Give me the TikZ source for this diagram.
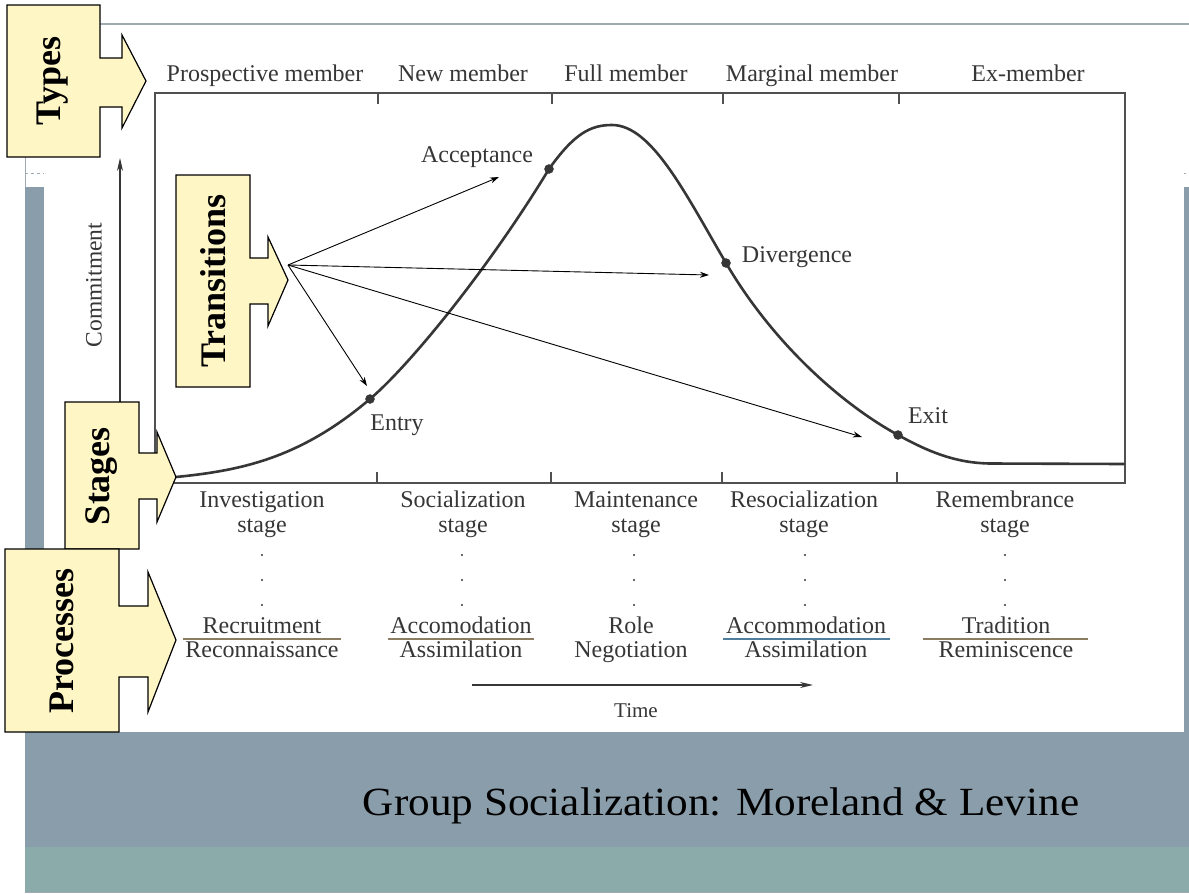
\documentclass[tikz,border=0pt]{standalone}
\usepackage{fontspec}
\newfontfamily\calloutfont{Liberation Serif}
\newfontfamily\titlefont{Liberation Serif}
\newfontfamily\labelfont{Liberation Serif}
\usetikzlibrary{arrows.meta}
\definecolor{bandgray}{HTML}{8A9DAA}
\definecolor{bandteal}{HTML}{8AABA9}
\definecolor{calloutfill}{HTML}{FFF6C6}
\definecolor{ink}{HTML}{363636}
\definecolor{frameink}{HTML}{505050}
\definecolor{rulebrown}{HTML}{8C7C62}
\definecolor{ruleblue}{HTML}{4F7E9C}
\definecolor{slideline}{HTML}{9EABB3}
\begin{document}
\begin{tikzpicture}[x=1pt,y=-1pt,
  lbl/.style={text=ink,font=\labelfont\fontsize{24}{27}\selectfont,inner sep=0pt,anchor=base},
  callout/.style={draw=black,line width=1.2pt,fill=calloutfill,line join=miter},
  callouttext/.style={font=\calloutfont\bfseries\fontsize{36}{40}\selectfont,rotate=90,inner sep=0pt},
  curve/.style={draw=ink,line width=2.6pt,line cap=round},
  frame/.style={draw=frameink,line width=1.8pt},
  tick/.style={draw=frameink,line width=1.4pt},
  pointer/.style={draw=black,line width=0.9pt,-{Stealth[length=9pt,width=6pt]}},
  axis/.style={draw=ink,line width=1.3pt,-{Stealth[length=13pt,width=6pt]}},
  milestone/.style={circle,fill=ink,draw=ink,inner sep=0pt,minimum size=9pt},
  pdot/.style={circle,fill=ink,inner sep=0pt,minimum size=2.4pt}
]
\useasboundingbox (0,0) rectangle (1189,894);
\fill[white] (0,0) rectangle (1189,894);

% slide background
\draw[slideline,line width=1.5pt] (100,24) -- (1189,24);
\draw[slideline,line width=1pt] (25,30) -- (25,187);
\draw[slideline,line width=0.8pt,dashed] (25,173) -- (1189,173);
\fill[bandgray] (25,187) rectangle (1189,847);
\fill[bandteal] (25,847) rectangle (1189,892);
\draw[slideline,line width=1pt] (25,892.5) -- (1189,892.5);

% white figure panel
\fill[white] (44,30) rectangle (1184,732);

% chart frame and ticks
\draw[frame] (155,93) rectangle (1125,483);
\foreach \tx in {378,552,723,899} \draw[tick] (\tx,93) -- (\tx,104);
\foreach \tx in {377,551,722,897} \draw[tick] (\tx,483) -- (\tx,472);

% membership types
\node[lbl] (ty1) at (265,81) {Prospective member};
\node[lbl] (ty2) at (463,81) {New member};
\node[lbl] (ty3) at (626,81) {Full member};
\node[lbl] (ty4) at (812,81) {Marginal member};
\node[lbl] (ty5) at (1028,81) {Ex-member};

% commitment axis
\coordinate (ax0) at (120,402);
\coordinate (ax1) at (120,158);
\draw[axis] (ax0) -- (ax1);
\node[text=ink,font=\labelfont\fontsize{23.5}{26}\selectfont,rotate=90,inner sep=0pt] (commit) at (94,285) {Commitment};

% commitment curve
\draw[curve] (176,477) .. controls (241,470.5) and (300,458.5) .. (370,399)
  .. controls (410,365) and (489,268) .. (549,169)
  .. controls (574,134) and (590,125) .. (612,125)
  .. controls (652,125) and (686,195) .. (726,263)
  .. controls (771,340) and (838,402) .. (898,435)
  .. controls (928,451.5) and (955,463) .. (990,463.5)
  -- (1124,464);

% role transitions
\node[milestone] (entry) at (370,399) {};
\node[milestone] (accept) at (549,169) {};
\node[milestone] (diverge) at (726,263) {};
\node[milestone] (exit) at (898,435) {};
\node[lbl] (entrylbl) at (397,430) {Entry};
\node[lbl] (acceptlbl) at (477,162) {Acceptance};
\node[lbl] (divergelbl) at (797,262) {Divergence};
\node[lbl] (exitlbl) at (928,423) {Exit};

% stages
\node[lbl] (s1a) at (262,507) {Investigation};
\node[lbl] (s1b) at (262,532) {stage};
\node[lbl] (s2a) at (463,507) {Socialization};
\node[lbl] (s2b) at (463,532) {stage};
\node[lbl] (s3a) at (636,507) {Maintenance};
\node[lbl] (s3b) at (636,532) {stage};
\node[lbl] (s4a) at (804,507) {Resocialization};
\node[lbl] (s4b) at (804,532) {stage};
\node[lbl] (s5a) at (1005,507) {Remembrance};
\node[lbl] (s5b) at (1005,532) {stage};
\foreach \dx in {262,462,634,805,1005}
  \foreach \dy in {555,580,605}
    \node[pdot] at (\dx,\dy) {};

% processes
\node[lbl] (p1a) at (262,633) {Recruitment};
\node[lbl] (p1b) at (262,657) {Reconnaissance};
\draw[rulebrown,line width=1.5pt] (183,639) -- (341,639);
\node[lbl] (p2a) at (461,633) {Accomodation};
\node[lbl] (p2b) at (461,657) {Assimilation};
\draw[rulebrown,line width=1.5pt] (388,639) -- (534,639);
\node[lbl] (p3a) at (631,633) {Role};
\node[lbl] (p3b) at (631,657) {Negotiation};
\node[lbl] (p4a) at (806,633) {Accommodation};
\node[lbl] (p4b) at (806,657) {Assimilation};
\draw[ruleblue,line width=1.5pt] (723,639) -- (890,639);
\node[lbl] (p5a) at (1006,633) {Tradition};
\node[lbl] (p5b) at (1006,657) {Reminiscence};
\draw[rulebrown,line width=1.5pt] (923,639) -- (1088,639);

% time axis
\coordinate (t0) at (472,685);
\coordinate (t1) at (813,685);
\draw[axis] (t0) -- (t1);
\node[lbl,font=\labelfont\fontsize{21}{24}\selectfont] (timelbl) at (636,717) {Time};

% callouts
\draw[callout] (7,5) -- (100,5) -- (100,58) -- (122,58) -- (122,35) -- (146,81)
  -- (122,128) -- (122,107) -- (100,107) -- (100,157) -- (7,157) -- cycle;
\node[callouttext] (types) at (53,81) {Types};

\draw[callout] (176,175) -- (250,175) -- (250,258) -- (268,258) -- (268,237) -- (288,280)
  -- (268,326) -- (268,304) -- (250,304) -- (250,387) -- (176,387) -- cycle;
\node[callouttext] (transitions) at (213,281) {Transitions};

\draw[callout] (65,402) -- (139,402) -- (139,453) -- (157,453) -- (157,432) -- (176,477)
  -- (157,522) -- (157,499) -- (139,499) -- (139,549) -- (65,549) -- cycle;
\node[callouttext] (stages) at (102,476) {Stages};

\draw[callout] (5,549) -- (119,549) -- (119,606) -- (148,606) -- (148,572) -- (176,640)
  -- (148,712) -- (148,677) -- (119,677) -- (119,732) -- (5,732) -- cycle;
\node[callouttext] (processes) at (62,641) {Processes};

% transition pointers
\coordinate (src) at (288,265);
\coordinate (toentry) at (367,386);
\coordinate (toaccept) at (499,177);
\coordinate (todiverge) at (709,275);
\coordinate (toexit) at (862,437);
\draw[pointer] (src) -- (toentry);
\draw[pointer] (src) -- (toaccept);
\draw[pointer] (src) -- (todiverge);
\draw[pointer] (src) -- (toexit);

% slide title
\node[font=\titlefont\fontsize{40}{46}\selectfont,anchor=base,inner sep=0pt,text=black] (title)
  at (721,815) {\scalebox{1.08}[1]{Group Socialization: Moreland \& Levine}};
\end{tikzpicture}
\end{document}
